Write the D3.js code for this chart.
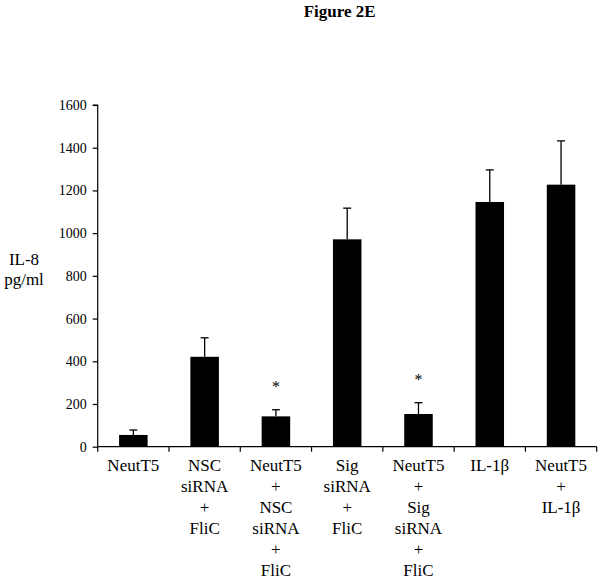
<!DOCTYPE html>
<html>
<head>
<meta charset="utf-8">
<script src="https://cdn.jsdelivr.net/npm/d3@7"></script>
<style>
  html, body { margin: 0; padding: 0; background: #fff; }
  svg { display: block; }
  text { font-family: "Liberation Serif", "Times New Roman", serif; fill: #000; }
</style>
</head>
<body>
<svg id="chart" width="602" height="579"></svg>
<script>
const categories = [
  "NeutT5",
  "NSC\nsiRNA\n+\nFliC",
  "NeutT5\n+\nNSC\nsiRNA\n+\nFliC",
  "Sig\nsiRNA\n+\nFliC",
  "NeutT5\n+\nSig\nsiRNA\n+\nFliC",
  "IL-1β",
  "NeutT5\n+\nIL-1β"
];
const values = [55, 421, 142, 971, 153, 1146, 1227];
const errors = [23, 89, 31, 146, 53, 150, 205];
const significant = [false, false, true, false, true, false, false];
const yTicks = [0, 200, 400, 600, 800, 1000, 1200, 1400, 1600];
const title = "Figure 2E";
const yLabel = ["IL-8", "pg/ml"];

const svg = d3.select("#chart");
const pLeft = 97.7, pRight = 596.7, pTop = 105, pBottom = 446.7;

const x = d3.scaleBand().domain(categories).range([pLeft, pRight]).paddingInner(0.6).paddingOuter(0.3);
const y = d3.scaleLinear().domain([0, 1600]).range([pBottom, pTop]);

// Title
svg.append("text").attr("x", 339.7).attr("y", 16.5).attr("text-anchor", "middle")
  .style("font-size", "17px").style("font-weight", "bold").text(title);

// Y axis
const yAxis = d3.axisLeft(y).tickValues(yTicks).tickSize(5).tickPadding(6).tickFormat(d3.format("d"));
const gy = svg.append("g").attr("transform", `translate(${pLeft},0)`).call(yAxis);
gy.selectAll("path, line").attr("stroke", "#000").attr("stroke-width", 1.2);
gy.select(".domain").attr("d", `M-5,${pTop}H0V${pBottom}`);
gy.selectAll("text").style("font-family", "'Liberation Serif', 'Times New Roman', serif").style("font-size", "14px");

// Y label
yLabel.forEach((t, i) => {
  svg.append("text").attr("x", 24).attr("y", 265 + i * 19.5).attr("text-anchor", "middle")
    .style("font-size", "17px").text(t);
});

// Bars
const step = x.step();
svg.append("g").selectAll("rect").data(categories).join("rect")
  .attr("x", d => x(d)).attr("width", x.bandwidth())
  .attr("y", (d, i) => y(values[i])).attr("height", (d, i) => y(0) - y(values[i]))
  .attr("fill", "#000");

// Error bars
const eg = svg.append("g").attr("stroke", "#000").attr("stroke-width", 1.3);
categories.forEach((c, i) => {
  const cx = x(c) + x.bandwidth() / 2;
  eg.append("line").attr("x1", cx).attr("x2", cx).attr("y1", y(values[i])).attr("y2", y(values[i] + errors[i]));
  eg.append("line").attr("x1", cx - 4).attr("x2", cx + 4).attr("y1", y(values[i] + errors[i])).attr("y2", y(values[i] + errors[i]));
});

// Significance stars
categories.forEach((c, i) => {
  if (!significant[i]) return;
  const cx = x(c) + x.bandwidth() / 2;
  svg.append("text").attr("x", cx).attr("y", y(values[i] + errors[i]) - 18)
    .attr("text-anchor", "middle").style("font-size", "16px").text("*");
});

// X axis
const gx = svg.append("g").attr("stroke", "#000").attr("stroke-width", 1.2);
gx.append("line").attr("x1", pLeft).attr("x2", pRight).attr("y1", pBottom).attr("y2", pBottom);
const boundaries = categories.map(c => x(c) - (step - x.bandwidth()) / 2).concat([pRight]);
boundaries.forEach(b => {
  gx.append("line").attr("x1", b).attr("x2", b).attr("y1", pBottom).attr("y2", pBottom + 5);
});

// X labels
categories.forEach(c => {
  const cx = x(c) + x.bandwidth() / 2;
  const t = svg.append("text").attr("text-anchor", "middle").style("font-size", "17px");
  c.split("\n").forEach((line, j) => {
    t.append("tspan").attr("x", cx).attr("y", 470.5 + j * 21).text(line);
  });
});
</script>
</body>
</html>
